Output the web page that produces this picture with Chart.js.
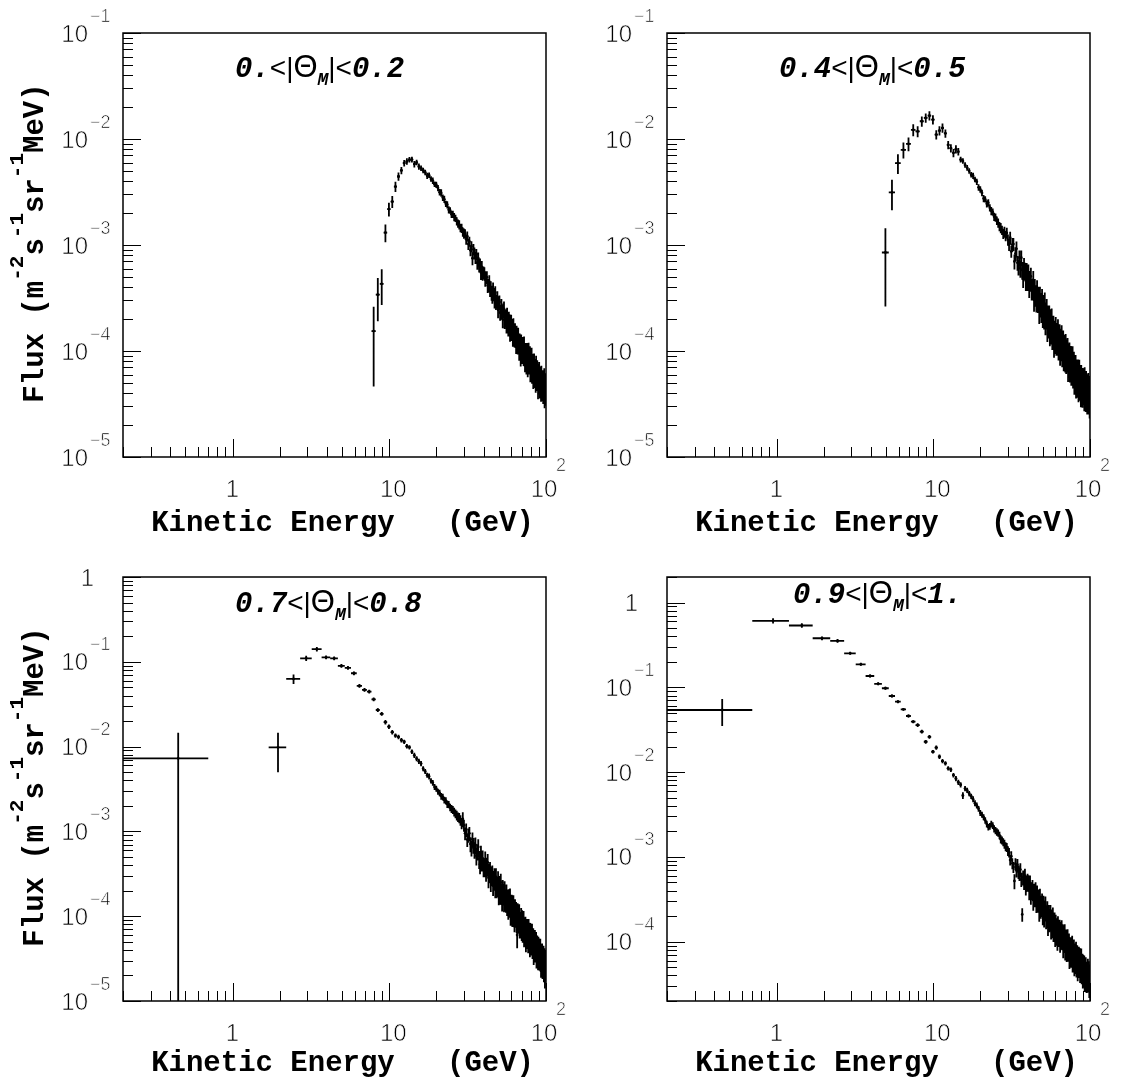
<!DOCTYPE html>
<html>
<head>
<meta charset="utf-8">
<title>Flux vs kinetic energy in four angular bins</title>
<script src="https://cdn.jsdelivr.net/npm/chart.js@4.4.1/dist/chart.umd.min.js"></script>
<style>
  html, body { margin: 0; padding: 0; background: #ffffff; }
  #page { position: relative; width: 1121px; height: 1080px; background: #ffffff; overflow: hidden; }
  #page canvas { position: absolute; left: 0; top: 0; }
</style>
</head>
<body>
<div id="page">
  <canvas id="panelA" width="1121" height="1080"></canvas>
  <canvas id="panelB" width="1121" height="1080"></canvas>
  <canvas id="panelC" width="1121" height="1080"></canvas>
  <canvas id="panelD" width="1121" height="1080"></canvas>
</div>
<script>
// Centres of the 0.5 GeV wide kinetic-energy bins (GeV)
const energy = [
  0.45, 0.95, 1.45, 1.95, 2.45, 2.95, 3.45, 3.95, 4.45, 4.95,
  5.45, 5.95, 6.45, 6.95, 7.45, 7.95, 8.45, 8.95, 9.45, 9.95,
  10.45, 10.95, 11.45, 11.95, 12.45, 12.95, 13.45, 13.95, 14.45, 14.95,
  15.45, 15.95, 16.45, 16.95, 17.45, 17.95, 18.45, 18.95, 19.45, 19.95,
  20.45, 20.95, 21.45, 21.95, 22.45, 22.95, 23.45, 23.95, 24.45, 24.95,
  25.45, 25.95, 26.45, 26.95, 27.45, 27.95, 28.45, 28.95, 29.45, 29.95,
  30.45, 30.95, 31.45, 31.95, 32.45, 32.95, 33.45, 33.95, 34.45, 34.95,
  35.45, 35.95, 36.45, 36.95, 37.45, 37.95, 38.45, 38.95, 39.45, 39.95,
  40.45, 40.95, 41.45, 41.95, 42.45, 42.95, 43.45, 43.95, 44.45, 44.95,
  45.45, 45.95, 46.45, 46.95, 47.45, 47.95, 48.45, 48.95, 49.45, 49.95,
  50.45, 50.95, 51.45, 51.95, 52.45, 52.95, 53.45, 53.95, 54.45, 54.95,
  55.45, 55.95, 56.45, 56.95, 57.45, 57.95, 58.45, 58.95, 59.45, 59.95,
  60.45, 60.95, 61.45, 61.95, 62.45, 62.95, 63.45, 63.95, 64.45, 64.95,
  65.45, 65.95, 66.45, 66.95, 67.45, 67.95, 68.45, 68.95, 69.45, 69.95,
  70.45, 70.95, 71.45, 71.95, 72.45, 72.95, 73.45, 73.95, 74.45, 74.95,
  75.45, 75.95, 76.45, 76.95, 77.45, 77.95, 78.45, 78.95, 79.45, 79.95,
  80.45, 80.95, 81.45, 81.95, 82.45, 82.95, 83.45, 83.95, 84.45, 84.95,
  85.45, 85.95, 86.45, 86.95, 87.45, 87.95, 88.45, 88.95, 89.45, 89.95,
  90.45, 90.95, 91.45, 91.95, 92.45, 92.95, 93.45, 93.95, 94.45, 94.95,
  95.45, 95.95, 96.45, 96.95, 97.45, 97.95, 98.45, 98.95, 99.45, 99.95
];
const BIN_HALF_WIDTH = 0.25;

// Flux (m^-2 s^-1 sr^-1 MeV^-1) per bin, 0. < |Theta_M| < 0.2
const fluxA = [
  null, null, null, null, null, null, null, null, null, null,
  null, null, null, null, null, 1.54e-4, 3.4e-4, 4.3e-4, 1.31e-3, 2.18e-3,
  2.57e-3, 3.56e-3, 4.43e-3, 5.05e-3, 5.93e-3, 6.14e-3, 6.37e-3, 6.4e-3, 5.8e-3, 6.0e-3,
  5.5e-3, 5.3e-3, 5.05e-3, 4.85e-3, 4.5e-3, 4.55e-3, 4.2e-3, 4.05e-3, 3.75e-3, 3.7e-3,
  3.45e-3, 3.15e-3, 3.1e-3, 2.8e-3, 2.7e-3, 2.45e-3, 2.4e-3, 2.15e-3, 2.12e-3, 1.95e-3,
  1.95e-3, 1.84e-3, 1.79e-3, 1.68e-3, 1.6e-3, 1.56e-3, 1.45e-3, 1.44e-3, 1.33e-3, 1.29e-3,
  1.28e-3, 1.13e-3, 1.21e-3, 1.02e-3, 1.08e-3, 8.9e-4, 9.7e-4, 7.5e-4, 9.1e-4, 8.4e-4,
  7.6e-4, 8.2e-4, 6.8e-4, 7.5e-4, 6.4e-4, 6.6e-4, 5.5e-4, 6.2e-4, 5.4e-4, 5.5e-4,
  5.45e-4, 4.7e-4, 5.0e-4, 4.95e-4, 4.15e-4, 4.15e-4, 4.5e-4, 3.75e-4, 3.95e-4, 3.55e-4,
  3.25e-4, 3.85e-4, 3.45e-4, 3.0e-4, 3.55e-4, 2.9e-4, 2.95e-4, 3.15e-4, 2.45e-4, 2.85e-4,
  2.9e-4, 2.3e-4, 2.35e-4, 2.65e-4, 2.35e-4, 1.98e-4, 2.42e-4, 2.5e-4, 1.97e-4, 2.03e-4,
  2.14e-4, 1.76e-4, 2.2e-4, 1.85e-4, 1.67e-4, 2.0e-4, 1.88e-4, 1.47e-4, 1.72e-4, 1.85e-4,
  1.48e-4, 1.71e-4, 1.34e-4, 1.74e-4, 1.5e-4, 1.3e-4, 1.55e-4, 1.3e-4, 1.13e-4, 1.47e-4,
  1.33e-4, 1.13e-4, 1.42e-4, 1.13e-4, 1.0e-4, 1.24e-4, 1.14e-4, 8.7e-5, 1.2e-4, 1.02e-4,
  9.1e-5, 1.15e-4, 9.9e-5, 8.8e-5, 1.15e-4, 8.7e-5, 7.8e-5, 1.0e-4, 9.5e-5, 7.4e-5,
  1.01e-4, 8.3e-5, 7.05e-5, 9.3e-5, 9.96e-5, 7.4e-5, 7.9e-5, 9.25e-5, 6.25e-5, 8.1e-5,
  6.75e-5, 9.0e-5, 6.15e-5, 7.5e-5, 7.85e-5, 5.4e-5, 6.8e-5, 7.9e-5, 6.05e-5, 5.6e-5,
  7.05e-5, 5.05e-5, 7.45e-5, 5.8e-5, 5.3e-5, 6.8e-5, 5.9e-5, 4.45e-5, 6.3e-5, 5.15e-5,
  6.6e-5, 4.85e-5, 4.5e-5, 5.95e-5, 5.25e-5, 4.15e-5, 6.0e-5, 4.75e-5, 5.4e-5, 4.25e-5,
  5.5e-5, 4.0e-5, 5.05e-5, 4.3e-5, 5.65e-5, 3.65e-5, 4.55e-5, 5.05e-5, 3.85e-5, 4.3e-5
];
// Relative statistical error per bin (%)
const errA = [
  0, 0, 0, 0, 0, 0, 0, 0, 0, 0,
  0, 0, 0, 0, 0, 70, 44, 37, 19, 15,
  13, 11, 9, 8, 7, 7, 6, 6, 7, 6,
  7, 6, 6, 6, 7, 6, 6, 7, 6, 7,
  7, 7, 8, 7, 8, 7, 8, 8, 7, 8,
  8, 9, 8, 9, 9, 10, 9, 10, 10, 11,
  10, 11, 11, 12, 11, 12, 12, 14, 12, 13,
  13, 12, 14, 13, 14, 13, 15, 14, 15, 14,
  13, 14, 13, 14, 15, 14, 15, 14, 15, 16,
  14, 15, 14, 16, 15, 16, 15, 16, 17, 15,
  15, 16, 15, 17, 16, 17, 16, 17, 18, 17,
  16, 17, 16, 17, 18, 17, 18, 17, 18, 19,
  16, 17, 18, 17, 18, 17, 18, 18, 17, 18,
  17, 18, 17, 18, 19, 18, 19, 18, 19, 19,
  17, 18, 19, 18, 19, 18, 19, 19, 18, 19,
  18, 19, 20, 19, 20, 19, 20, 20, 19, 20,
  18, 19, 20, 19, 20, 19, 20, 20, 19, 20,
  19, 20, 21, 20, 21, 20, 21, 21, 20, 21,
  19, 20, 21, 20, 21, 20, 21, 21, 20, 21,
  20, 21, 22, 21, 22, 21, 22, 22, 21, 22
];

// 0.4 < |Theta_M| < 0.5
const fluxB = [
  null, null, null, null, null, null, null, null, null, 8.5e-4,
  3.13e-3, 5.93e-3, 7.9e-3, 9.0e-3, 1.22e-2, 1.18e-2, 1.47e-2, 1.58e-2, 1.66e-2, 1.52e-2,
  1.1e-2, 1.2e-2, 1.27e-2, 1.13e-2, 8.8e-3, 8.2e-3, 7.4e-3, 8.0e-3, 7.6e-3, 6.4e-3,
  6.2e-3, 5.7e-3, 5.35e-3, 5.0e-3, 4.6e-3, 4.5e-3, 4.15e-3, 3.95e-3, 3.5e-3, 3.35e-3,
  3.1e-3, 2.75e-3, 2.7e-3, 2.45e-3, 2.5e-3, 2.25e-3, 2.1e-3, 2.05e-3, 1.85e-3, 1.82e-3,
  1.7e-3, 1.62e-3, 1.5e-3, 1.45e-3, 1.38e-3, 1.28e-3, 1.33e-3, 1.22e-3, 1.3e-3, 1.12e-3,
  1.01e-3, 1.17e-3, 8.7e-4, 1.01e-3, 1.02e-3, 7.0e-4, 8.3e-4, 9.2e-4, 6.8e-4, 6.2e-4,
  7.6e-4, 6.0e-4, 7.6e-4, 5.8e-4, 4.8e-4, 6.3e-4, 5.7e-4, 4.6e-4, 5.6e-4, 4.6e-4,
  5.45e-4, 4.0e-4, 4.65e-4, 5.05e-4, 3.85e-4, 3.9e-4, 4.65e-4, 3.05e-4, 3.85e-4, 3.4e-4,
  3.0e-4, 3.75e-4, 3.05e-4, 3.25e-4, 2.4e-4, 3.25e-4, 2.8e-4, 2.45e-4, 3.05e-4, 2.2e-4,
  2.7e-4, 2.15e-4, 2.8e-4, 1.9e-4, 2.18e-4, 2.45e-4, 1.67e-4, 2.1e-4, 1.8e-4, 2.1e-4,
  1.5e-4, 1.95e-4, 1.6e-4, 1.98e-4, 1.42e-4, 1.57e-4, 1.68e-4, 1.2e-4, 1.52e-4, 1.3e-4,
  1.67e-4, 1.22e-4, 1.45e-4, 1.22e-4, 1.57e-4, 1.1e-4, 1.28e-4, 1.41e-4, 9.8e-5, 1.28e-4,
  1.07e-4, 1.39e-4, 9.6e-5, 1.17e-4, 1.23e-4, 8.7e-5, 1.03e-4, 1.11e-4, 8.6e-5, 1.13e-4,
  8.1e-5, 1.02e-4, 8.6e-5, 1.05e-4, 7.0e-5, 9.2e-5, 7.6e-5, 9.4e-5, 6.9e-5, 8.1e-5,
  8.85e-5, 6.45e-5, 7.9e-5, 6.75e-5, 8.65e-5, 6.05e-5, 6.75e-5, 7.7e-5, 5.3e-5, 6.95e-5,
  5.65e-5, 7.2e-5, 4.95e-5, 6.15e-5, 6.5e-5, 4.95e-5, 5.35e-5, 6.5e-5, 4.5e-5, 5.2e-5,
  6.55e-5, 4.65e-5, 5.35e-5, 5.8e-5, 4.1e-5, 5.8e-5, 4.6e-5, 5.2e-5, 4.05e-5, 5.35e-5,
  4.2e-5, 5.3e-5, 4.45e-5, 3.7e-5, 5.5e-5, 4.1e-5, 4.7e-5, 3.75e-5, 5.05e-5, 4.05e-5,
  4.75e-5, 3.5e-5, 4.45e-5, 3.75e-5, 4.8e-5, 3.5e-5, 3.95e-5, 4.5e-5, 3.2e-5, 3.8e-5
];
const errB = [
  0, 0, 0, 0, 0, 0, 0, 0, 0, 69,
  32, 21, 17, 15, 13, 12, 11, 10, 10, 10,
  10, 10, 10, 9, 9, 9, 9, 9, 8, 6,
  6, 6, 6, 6, 6, 7, 6, 7, 7, 7,
  7, 8, 7, 8, 8, 8, 9, 8, 9, 9,
  9, 10, 10, 11, 10, 11, 12, 11, 12, 12,
  13, 14, 13, 15, 14, 16, 15, 17, 16, 17,
  17, 18, 17, 19, 18, 20, 19, 20, 21, 20,
  20, 21, 22, 21, 22, 23, 22, 23, 24, 23,
  23, 24, 25, 24, 25, 24, 26, 25, 26, 25,
  25, 26, 27, 26, 27, 26, 27, 28, 27, 28,
  26, 27, 28, 27, 28, 27, 28, 28, 27, 28,
  25, 26, 27, 26, 27, 26, 27, 27, 26, 27,
  25, 26, 27, 26, 27, 26, 27, 28, 27, 28,
  25, 26, 27, 26, 27, 26, 27, 28, 27, 28,
  26, 27, 28, 27, 28, 27, 28, 28, 27, 28,
  26, 27, 28, 27, 28, 27, 28, 28, 27, 28,
  26, 27, 28, 27, 28, 27, 28, 29, 28, 29,
  26, 27, 28, 27, 28, 27, 28, 29, 28, 29,
  27, 28, 29, 28, 29, 28, 29, 29, 28, 29
];

// 0.7 < |Theta_M| < 0.8
const fluxC = [
  7.28e-3, null, null, 9.8e-3, 6.28e-2, 0.110, 0.141, 0.113, 0.110, 8.95e-2,
  8.5e-2, 7.33e-2, 5.2e-2, 4.66e-2, 4.45e-2, 3.61e-2, 2.7e-2, 2.43e-2, 1.94e-2, 1.72e-2,
  1.48e-2, 1.35e-2, 1.3e-2, 1.19e-2, 1.14e-2, 1.01e-2, 9.8e-3, 8.7e-3, 7.9e-3, 7.2e-3,
  6.7e-3, 6.3e-3, 5.5e-3, 5.1e-3, 4.6e-3, 4.45e-3, 3.95e-3, 3.75e-3, 3.35e-3, 3.2e-3,
  2.95e-3, 2.85e-3, 2.6e-3, 2.55e-3, 2.35e-3, 2.3e-3, 2.1e-3, 2.08e-3, 1.92e-3, 1.85e-3,
  1.8e-3, 1.7e-3, 1.62e-3, 1.55e-3, 1.48e-3, 1.45e-3, 1.36e-3, 1.25e-3, 1.4e-3, 1.18e-3,
  9.5e-4, 1.05e-3, 8.0e-4, 9.1e-4, 9.5e-4, 7.1e-4, 6.4e-4, 8.1e-4, 6.9e-4, 6.1e-4,
  6.95e-4, 5.15e-4, 5.8e-4, 6.55e-4, 4.75e-4, 4.1e-4, 5.5e-4, 4.5e-4, 4.8e-4, 3.85e-4,
  3.8e-4, 4.65e-4, 3.35e-4, 3.9e-4, 4.3e-4, 2.85e-4, 3.3e-4, 3.45e-4, 2.65e-4, 3.05e-4,
  3.15e-4, 2.3e-4, 2.7e-4, 2.9e-4, 2.2e-4, 2.9e-4, 2.2e-4, 2.3e-4, 2.65e-4, 1.85e-4,
  2.35e-4, 1.9e-4, 2.5e-4, 1.88e-4, 1.58e-4, 2.1e-4, 1.86e-4, 1.55e-4, 2.0e-4, 1.6e-4,
  1.5e-4, 1.85e-4, 1.4e-4, 1.6e-4, 1.26e-4, 1.61e-4, 1.33e-4, 1.64e-4, 1.09e-4, 1.3e-4,
  1.4e-4, 1.05e-4, 1.21e-4, 1.37e-4, 1.04e-4, 9.0e-5, 1.23e-4, 1.03e-4, 1.13e-4, 8.9e-5,
  6.0e-5, 1.1e-4, 8.6e-5, 9.9e-5, 1.07e-4, 7.6e-5, 8.7e-5, 7.7e-5, 9.6e-5, 7.2e-5,
  9.2e-5, 6.85e-5, 7.6e-5, 8.95e-5, 6.15e-5, 7.45e-5, 6.4e-5, 7.6e-5, 5.3e-5, 6.5e-5,
  5.7e-5, 7.2e-5, 6.55e-5, 5.15e-5, 7.15e-5, 5.8e-5, 6.45e-5, 4.7e-5, 6.45e-5, 5.05e-5,
  6.05e-5, 4.85e-5, 6.25e-5, 4.4e-5, 5.1e-5, 5.6e-5, 3.8e-5, 5.05e-5, 4.35e-5, 5.3e-5,
  3.95e-5, 4.6e-5, 5.0e-5, 3.4e-5, 4.15e-5, 4.6e-5, 3.6e-5, 3.3e-5, 4.45e-5, 3.65e-5,
  4.25e-5, 3.2e-5, 3.65e-5, 4.2e-5, 3.15e-5, 2.65e-5, 3.6e-5, 3.1e-5, 3.7e-5, 2.6e-5,
  3.25e-5, 2.7e-5, 3.45e-5, 2.35e-5, 2.9e-5, 3.25e-5, 2.0e-5, 2.7e-5, 3.1e-5, 2.5e-5
];
const errC = [
  100, 0, 0, 49, 13, 7, 6, 5, 5, 5,
  5, 5, 5, 5, 5, 5, 5, 5, 6, 6,
  6, 6, 6, 6, 6, 6, 6, 6, 7, 7,
  7, 7, 7, 7, 7, 8, 7, 8, 8, 8,
  8, 9, 9, 9, 9, 10, 10, 10, 10, 11,
  11, 12, 12, 13, 13, 14, 14, 15, 20, 16,
  17, 18, 18, 19, 19, 20, 21, 20, 21, 22,
  22, 23, 22, 23, 24, 24, 23, 25, 24, 25,
  24, 25, 24, 25, 26, 25, 26, 26, 27, 26,
  26, 25, 26, 27, 26, 27, 26, 27, 28, 27,
  27, 28, 27, 28, 28, 27, 28, 28, 29, 28,
  27, 28, 28, 29, 28, 29, 28, 29, 29, 28,
  28, 29, 28, 29, 29, 28, 29, 29, 30, 29,
  30, 29, 28, 29, 29, 28, 29, 29, 30, 29,
  28, 29, 30, 29, 30, 29, 30, 30, 29, 30,
  28, 29, 30, 29, 30, 29, 30, 30, 29, 30,
  28, 29, 30, 29, 30, 29, 30, 30, 29, 30,
  28, 29, 30, 29, 30, 29, 30, 30, 29, 30,
  28, 29, 30, 29, 30, 29, 30, 30, 29, 30,
  28, 29, 30, 29, 30, 29, 30, 30, 29, 30
];

// 0.9 < |Theta_M| < 1.
const fluxD = [
  5.4e-2, 0.608, 0.536, 0.379, 0.353, 0.252, 0.187, 0.136, 0.110, 9.75e-2,
  7.9e-2, 6.78e-2, 5.5e-2, 4.59e-2, 3.94e-2, 3.59e-2, 3.0e-2, 2.28e-2, 2.61e-2, 1.74e-2,
  1.95e-2, 1.52e-2, 1.35e-2, 1.27e-2, 1.11e-2, 1.07e-2, 9.2e-3, 8.4e-3, 7.6e-3, 7.1e-3,
  5.3e-3, 6.4e-3, 6.1e-3, 5.6e-3, 5.2e-3, 4.8e-3, 4.3e-3, 4.05e-3, 3.7e-3, 3.3e-3,
  3.15e-3, 2.95e-3, 2.7e-3, 2.45e-3, 2.25e-3, 2.3e-3, 2.45e-3, 2.35e-3, 2.15e-3, 2.05e-3,
  1.98e-3, 1.92e-3, 1.8e-3, 1.62e-3, 1.57e-3, 1.5e-3, 1.42e-3, 1.33e-3, 1.3e-3, 1.18e-3,
  1.13e-3, 9.2e-4, 1.02e-3, 8.4e-4, 7.6e-4, 5.2e-4, 8.3e-4, 6.9e-4, 8.1e-4, 6.7e-4,
  6.35e-4, 7.1e-4, 5.45e-4, 2.1e-4, 5.75e-4, 5.1e-4, 6.0e-4, 4.45e-4, 4.95e-4, 5.2e-4,
  5.0e-4, 4.0e-4, 4.9e-4, 3.6e-4, 4.05e-4, 4.3e-4, 3.1e-4, 3.85e-4, 3.4e-4, 4.0e-4,
  2.95e-4, 3.65e-4, 3.0e-4, 3.25e-4, 2.35e-4, 3.3e-4, 2.6e-4, 2.72e-4, 2.9e-4, 2.2e-4,
  2.75e-4, 2.05e-4, 2.4e-4, 2.65e-4, 1.95e-4, 2.05e-4, 2.35e-4, 1.65e-4, 2.1e-4, 1.8e-4,
  1.88e-4, 2.1e-4, 1.5e-4, 1.85e-4, 1.55e-4, 1.95e-4, 1.4e-4, 1.57e-4, 1.7e-4, 1.22e-4,
  1.63e-4, 1.26e-4, 1.47e-4, 1.12e-4, 1.55e-4, 1.24e-4, 1.29e-4, 1.4e-4, 1.06e-4, 1.32e-4,
  1.12e-4, 1.39e-4, 1.12e-4, 1.24e-4, 9.0e-5, 1.2e-4, 1.04e-4, 1.24e-4, 8.6e-5, 1.02e-4,
  1.09e-4, 8.1e-5, 9.7e-5, 1.08e-4, 8.2e-5, 8.5e-5, 9.7e-5, 6.8e-5, 8.7e-5, 7.5e-5,
  6.85e-5, 8.75e-5, 7.3e-5, 9.05e-5, 6.1e-5, 7.6e-5, 6.5e-5, 8.15e-5, 5.6e-5, 7.4e-5,
  7.1e-5, 5.85e-5, 7.75e-5, 5.4e-5, 6.35e-5, 7.0e-5, 4.8e-5, 6.4e-5, 5.45e-5, 6.75e-5,
  5.2e-5, 6.55e-5, 4.6e-5, 5.8e-5, 5.2e-5, 6.4e-5, 4.45e-5, 5.15e-5, 5.55e-5, 3.95e-5,
  5.5e-5, 4.1e-5, 4.7e-5, 5.3e-5, 3.6e-5, 4.65e-5, 4.0e-5, 5.05e-5, 3.6e-5, 4.05e-5,
  3.45e-5, 4.5e-5, 3.85e-5, 4.85e-5, 3.55e-5, 4.0e-5, 4.55e-5, 3.1e-5, 4.15e-5, 3.55e-5
];
const errD = [
  35, 7, 6, 5, 5, 4, 4, 4, 4, 4,
  4, 4, 4, 4, 4, 5, 5, 5, 5, 5,
  6, 6, 6, 6, 6, 6, 6, 7, 7, 7,
  9, 7, 7, 7, 7, 8, 8, 8, 8, 8,
  8, 8, 9, 9, 9, 9, 9, 9, 10, 10,
  10, 10, 10, 11, 11, 11, 12, 12, 12, 13,
  13, 14, 14, 15, 15, 20, 16, 17, 17, 18,
  18, 19, 19, 18, 20, 20, 21, 21, 22, 22,
  22, 23, 23, 24, 24, 24, 25, 25, 25, 26,
  26, 26, 27, 27, 27, 28, 28, 28, 28, 29,
  27, 28, 28, 29, 28, 29, 28, 29, 29, 28,
  28, 29, 29, 30, 29, 30, 29, 30, 30, 29,
  28, 29, 29, 30, 29, 30, 29, 30, 30, 29,
  28, 29, 29, 30, 29, 30, 29, 30, 30, 29,
  28, 29, 29, 30, 29, 30, 29, 30, 30, 29,
  28, 29, 29, 30, 29, 30, 29, 30, 30, 29,
  28, 29, 29, 30, 29, 30, 29, 30, 30, 29,
  28, 29, 29, 30, 29, 30, 29, 30, 30, 29,
  28, 29, 29, 30, 29, 30, 29, 30, 30, 29,
  28, 29, 29, 30, 29, 30, 29, 30, 30, 29
];

// Axis tick labels
const xTickLabels = [
  { value: 1, text: '1' },
  { value: 10, text: '10' },
  { value: 100, text: '10', sup: '2' }
];
const yTickLabelsTop = [
  { value: 1e-5, text: '10', sup: '\u22125' },
  { value: 1e-4, text: '10', sup: '\u22124' },
  { value: 1e-3, text: '10', sup: '\u22123' },
  { value: 1e-2, text: '10', sup: '\u22122' },
  { value: 1e-1, text: '10', sup: '\u22121' }
];
const yTickLabelsC = [
  { value: 1e-5, text: '10', sup: '\u22125' },
  { value: 1e-4, text: '10', sup: '\u22124' },
  { value: 1e-3, text: '10', sup: '\u22123' },
  { value: 1e-2, text: '10', sup: '\u22122' },
  { value: 1e-1, text: '10', sup: '\u22121' },
  { value: 1, text: '1' }
];
const yTickLabelsD = [
  { value: 1e-4, text: '10', sup: '\u22124' },
  { value: 1e-3, text: '10', sup: '\u22123' },
  { value: 1e-2, text: '10', sup: '\u22122' },
  { value: 1e-1, text: '10', sup: '\u22121' },
  { value: 1, text: '1' }
];

const X_TITLE = 'Kinetic Energy   (GeV)';

const FONT_TICK = '24px "Liberation Sans", Arial, Helvetica, sans-serif';
const FONT_TICK_SUP = '18px "Liberation Sans", Arial, Helvetica, sans-serif';
const FONT_AXIS = 'bold 29px "Liberation Mono", "Courier New", monospace';
const FONT_AXIS_SUP = 'bold 21px "Liberation Mono", "Courier New", monospace';
const FONT_TITLE_NUM = 'italic bold 29px "Liberation Mono", "Courier New", monospace';
const FONT_TITLE_SYM = '28px "Liberation Sans", Arial, Helvetica, sans-serif';
const FONT_TITLE_THETA = '31px "Liberation Sans", Arial, Helvetica, sans-serif';
const FONT_TITLE_SUB = 'italic bold 18px "Liberation Mono", "Courier New", monospace';

const panels = {
  panelA: { flux: fluxA, err: errA, yMin: 1e-5, yMax: 1e-1, yLabels: yTickLabelsTop,
            lo: '0.', hi: '0.2', titleX: 235, titleY: 77, yTitle: true, xTitleDy: 74,
            pad: { left: 123, top: 33, right: 575, bottom: 623 } },
  panelB: { flux: fluxB, err: errB, yMin: 1e-5, yMax: 1e-1, yLabels: yTickLabelsTop,
            lo: '0.4', hi: '0.5', titleX: 779, titleY: 77, yTitle: false, xTitleDy: 74,
            pad: { left: 667, top: 33, right: 31, bottom: 623 } },
  panelC: { flux: fluxC, err: errC, yMin: 1e-5, yMax: 1, yLabels: yTickLabelsC,
            lo: '0.7', hi: '0.8', titleX: 235, titleY: 612, yTitle: true, xTitleDy: 70,
            pad: { left: 123, top: 577, right: 575, bottom: 79 } },
  panelD: { flux: fluxD, err: errD, yMin: 2e-5, yMax: 2, yLabels: yTickLabelsD,
            lo: '0.9', hi: '1.', titleX: 793, titleY: 603, yTitle: false, xTitleDy: 70,
            pad: { left: 667, top: 577, right: 31, bottom: 79 } }
};

// 1..9 x 10^n tick positions inside [min, max]
function logTicks(min, max) {
  const out = [];
  const lo = Math.floor(Math.log10(min) + 1e-9);
  const hi = Math.ceil(Math.log10(max) - 1e-9);
  for (let d = lo; d <= hi; d++) {
    for (let m = 1; m <= 9; m++) {
      const v = m * Math.pow(10, d);
      if (v >= min * (1 - 1e-9) && v <= max * (1 + 1e-9)) out.push({ v, major: m === 1 });
    }
  }
  return out;
}

function richWidth(ctx, parts) {
  let w = 0;
  for (const p of parts) { ctx.font = p.font; w += ctx.measureText(p.text).width; }
  return w;
}
function drawRich(ctx, parts, x, y) {
  let cx = x;
  for (const p of parts) {
    ctx.font = p.font;
    ctx.fillText(p.text, cx, y + (p.dy || 0));
    cx += ctx.measureText(p.text).width;
  }
}
// thin, light tick-label lettering: fill, then trim the glyph edges with white
function thinText(ctx, text, x, y) {
  ctx.fillText(text, x, y);
  ctx.save();
  ctx.strokeStyle = '#ffffff';
  ctx.lineWidth = 0.7;
  ctx.strokeText(text, x, y);
  ctx.restore();
}

const rootStyle = {
  id: 'rootStyle',
  beforeDatasetsDraw(chart) {
    const p = panels[chart.canvas.id];
    const { ctx, chartArea: a } = chart;
    const xs = chart.scales.x, ys = chart.scales.y;
    ctx.save();
    ctx.beginPath();
    ctx.rect(a.left, a.top, a.right - a.left, a.bottom - a.top);
    ctx.clip();
    ctx.strokeStyle = '#000';
    ctx.lineWidth = 1.8;
    ctx.beginPath();
    p.flux.forEach((v, i) => {
      if (v === null) return;
      const e = v * p.err[i] / 100;
      const px = xs.getPixelForValue(energy[i]);
      const py = ys.getPixelForValue(v);
      const top = ys.getPixelForValue(v + e);
      const bot = (v - e) > ys.min ? ys.getPixelForValue(v - e) : a.bottom + 2;
      ctx.moveTo(px, top); ctx.lineTo(px, bot);
      const eLo = energy[i] - BIN_HALF_WIDTH;
      const x0 = eLo > xs.min ? xs.getPixelForValue(eLo) : a.left - 2;
      const x1 = xs.getPixelForValue(energy[i] + BIN_HALF_WIDTH);
      ctx.moveTo(x0, py); ctx.lineTo(x1, py);
    });
    ctx.stroke();
    ctx.restore();
  },
  afterDraw(chart) {
    const p = panels[chart.canvas.id];
    const { ctx, chartArea: a } = chart;
    const xs = chart.scales.x, ys = chart.scales.y;
    ctx.save();
    ctx.strokeStyle = '#000';
    ctx.fillStyle = '#000';

    // ticks drawn inwards from the left and bottom edges
    ctx.lineWidth = 1;
    ctx.beginPath();
    for (const t of logTicks(xs.min, xs.max)) {
      const px = Math.round(xs.getPixelForValue(t.v)) + 0.5;
      ctx.moveTo(px, a.bottom); ctx.lineTo(px, a.bottom - (t.major ? 18 : 10));
    }
    for (const t of logTicks(ys.min, ys.max)) {
      const py = Math.round(ys.getPixelForValue(t.v)) + 0.5;
      ctx.moveTo(a.left, py); ctx.lineTo(a.left + (t.major ? 18 : 10), py);
    }
    ctx.stroke();

    // frame
    ctx.lineWidth = 1.5;
    ctx.strokeRect(a.left, a.top, a.right - a.left, a.bottom - a.top);

    // y tick labels
    ctx.textBaseline = 'alphabetic';
    for (const L of p.yLabels) {
      const py = ys.getPixelForValue(L.value);
      ctx.font = FONT_TICK; ctx.textAlign = 'right';
      if (L.sup) {
        thinText(ctx, L.text, a.left - 35, py + 8.5);
        ctx.font = FONT_TICK_SUP; ctx.textAlign = 'left';
        thinText(ctx, L.sup, a.left - 33, py - 11.5);
      } else {
        thinText(ctx, L.text, a.left - 29, py + 8.5);
      }
    }
    // x tick labels
    for (const L of xTickLabels) {
      const px = xs.getPixelForValue(L.value);
      ctx.font = FONT_TICK; ctx.textAlign = 'center';
      if (L.sup) {
        thinText(ctx, L.text, px - 2, a.bottom + 40);
        ctx.font = FONT_TICK_SUP; ctx.textAlign = 'left';
        thinText(ctx, L.sup, px + 10, a.bottom + 13.5);
      } else {
        thinText(ctx, L.text, px + (L.text.length > 1 ? 4 : 0), a.bottom + 40);
      }
    }

    // x axis title
    ctx.font = FONT_AXIS; ctx.textAlign = 'right';
    ctx.fillText(X_TITLE, a.right - 12, a.bottom + p.xTitleDy);

    // y axis title
    if (p.yTitle) {
      const parts = [
        { text: 'Flux (m', font: FONT_AXIS },
        { text: '-2', font: FONT_AXIS_SUP, dy: -20 },
        { text: 's', font: FONT_AXIS },
        { text: '-1', font: FONT_AXIS_SUP, dy: -20 },
        { text: 'sr', font: FONT_AXIS },
        { text: '-1', font: FONT_AXIS_SUP, dy: -20 },
        { text: 'MeV)', font: FONT_AXIS }
      ];
      ctx.save();
      ctx.translate(43, (a.top + a.bottom) / 2 - 2);
      ctx.rotate(-Math.PI / 2);
      ctx.textAlign = 'left';
      const w = richWidth(ctx, parts);
      drawRich(ctx, parts, -w / 2, 0);
      ctx.restore();
    }

    // angular bin title
    ctx.textAlign = 'left';
    drawRich(ctx, [
      { text: p.lo, font: FONT_TITLE_NUM },
      { text: '<|', font: FONT_TITLE_SYM },
      { text: '\u0398', font: FONT_TITLE_THETA },
      { text: 'M', font: FONT_TITLE_SUB, dy: 8 },
      { text: '|<', font: FONT_TITLE_SYM },
      { text: p.hi, font: FONT_TITLE_NUM }
    ], p.titleX, p.titleY);
    ctx.restore();
  }
};

for (const id of Object.keys(panels)) {
  const p = panels[id];
  const points = [];
  p.flux.forEach((v, i) => { if (v !== null) points.push({ x: energy[i], y: v }); });
  new Chart(document.getElementById(id), {
    type: 'scatter',
    data: {
      datasets: [{
        label: p.lo + ' < |\u0398M| < ' + p.hi,
        data: points,
        pointRadius: 1.4,
        pointHoverRadius: 1.4,
        pointBorderWidth: 0,
        pointBackgroundColor: '#000',
        showLine: false,
        clip: 0
      }]
    },
    options: {
      responsive: false,
      maintainAspectRatio: false,
      animation: false,
      devicePixelRatio: 1,
      events: [],
      layout: { padding: p.pad },
      plugins: { legend: { display: false }, tooltip: { enabled: false } },
      scales: {
        x: { type: 'logarithmic', min: 0.2, max: 100, display: false },
        y: { type: 'logarithmic', min: p.yMin, max: p.yMax, display: false }
      }
    },
    plugins: [rootStyle]
  });
}
</script>
</body>
</html>
